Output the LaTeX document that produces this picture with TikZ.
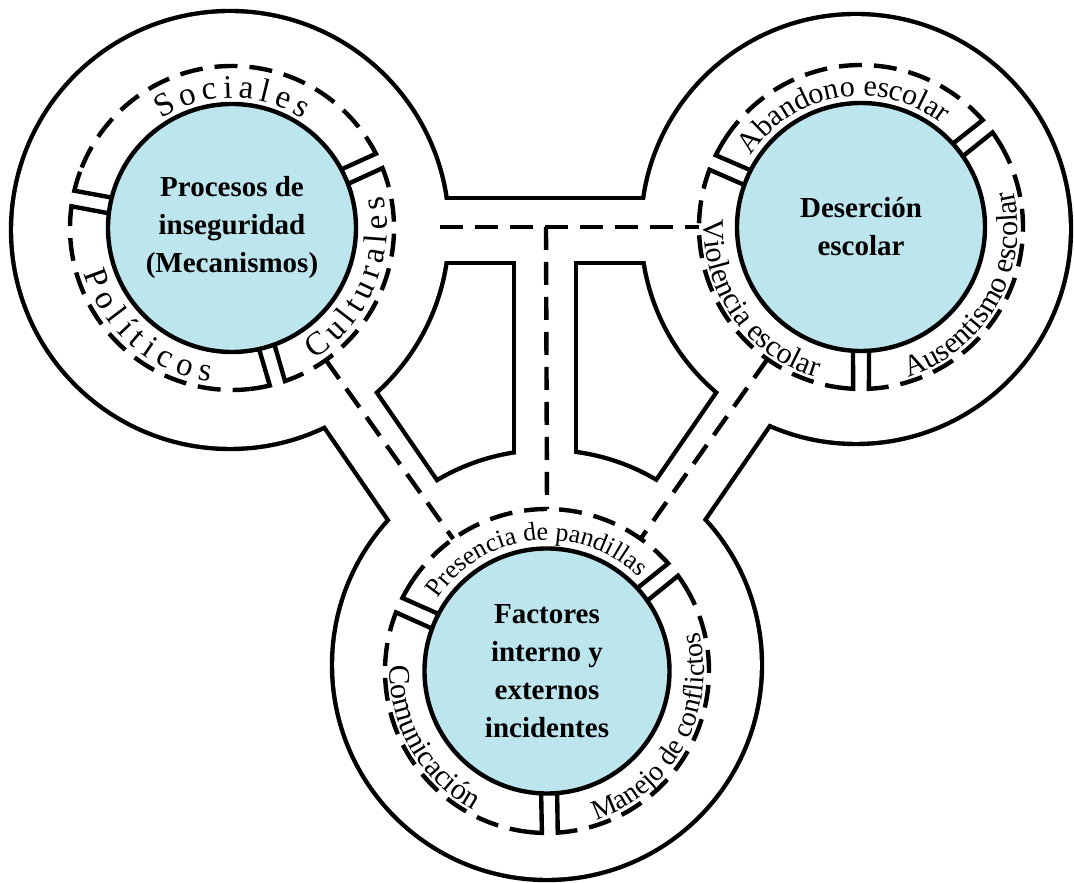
\documentclass[tikz,border=0pt]{standalone}
\usepackage{fontspec}
\setmainfont{Liberation Serif}
\usetikzlibrary{calc,decorations.text}

\definecolor{topicblue}{RGB}{188,229,238}

\newcommand{\spacedfont}{\fontsize{16.5pt}{20pt}\selectfont}
\newcommand{\ringfont}{\fontsize{15pt}{18pt}\selectfont}

\tikzset{
  topic/.style={circle, draw, fill=topicblue, line width=2.2pt, align=center,
    inner sep=0pt, font=\bfseries\fontsize{14.5pt}{19pt}\selectfont},
  ringline/.style={line width=2.2pt},
  ringdash/.style={line width=2.2pt, dash pattern=on 11.5pt off 6pt, dash phase=11.5pt},
  linkdash/.style={line width=2.2pt, dash pattern=on 11.5pt off 6pt},
}

\begin{document}
\begin{tikzpicture}[x=0.5pt, y=0.5pt]
\useasboundingbox (0,0) rectangle (1074,882);

% outline: black shapes, then the same shapes a little thinner in white
\fill (230,652) circle (221.2) (856,653) circle (217.2) (547,217) circle (217.2);
\draw[line width=34.7pt] (300,651.5) -- (790,651.5);
\draw[line width=33.2pt] (545,651.5) -- (545,282);
\draw[line width=33.7pt] (294,554) -- (467.7,301.6);
\draw[line width=33.7pt] (799,554) -- (625.3,301.6);
\fill[white] (230,652) circle (216.8) (856,653) circle (212.8) (547,217) circle (212.8);
\draw[white, line width=30.3pt] (300,651.5) -- (790,651.5);
\draw[white, line width=28.8pt] (545,651.5) -- (545,282);
\draw[white, line width=29.3pt] (294,554) -- (467.7,301.6);
\draw[white, line width=29.3pt] (799,554) -- (625.3,301.6);

% topics
\node (A) [topic, minimum size=124pt] at (232,654) {Procesos de\\inseguridad\\(Mecanismos)};
\node (B) [topic, minimum size=124pt] at (861,655) {Deserción\\escolar};
\node (C) [topic, minimum size=122.5pt] at (547,211) {Factores\\interno y\\externos\\incidentes};

% dashed rings, one piece per label
\foreach \c/\ri/\ga/\gb in {A/124/24.5/169.5, A/124/169.5/286.3, A/124/-73.7/24.5,
    B/124/38.5/156.5, B/124/156.5/270, B/124/-90/38.5,
    C/122.5/38.8/156, C/122.5/156/271, C/122.5/-89/38.8}{
  \draw[ringline] ($(\c)+(\ga:\ri)+(\ga+90:8)$) -- ($(\c)+(\ga+2.8:162)$)
    arc[start angle=\ga+2.8, end angle=\ga+9.8, radius=162];
  \draw[ringdash] ($(\c)+(\ga+9.8:162)$)
    arc[start angle=\ga+9.8, end angle=\gb-9.8, radius=162];
  \draw[ringline] ($(\c)+(\gb-9.8:162)$)
    arc[start angle=\gb-9.8, end angle=\gb-2.8, radius=162] -- ($(\c)+(\gb:\ri)+(\gb-90:8)$);
}

% dashed links between the rings
\coordinate (hL) at (440,655);
\coordinate (hJ) at (546,655);
\coordinate (Bw) at ($(B)+(180:162)$);
\coordinate (Cn) at ($(C)+(90:162)$);
\coordinate (Ase) at ($(A)+(-54.6:162)$);
\coordinate (Cnw) at ($(C)+(125.4:162)$);
\coordinate (Bsw) at ($(B)+(-125.3:162)$);
\coordinate (Cne) at ($(C)+(54.7:162)$);
\draw[linkdash] (hL) -- (Bw);
\draw[linkdash] (hJ) -- (Cn);
\draw[linkdash] (Ase) -- (Cnw);
\draw[linkdash] (Bsw) -- (Cne);

% labels along the rings
\path[decorate, decoration={text along path, text align=fit to path, text={|\spacedfont|Sociales}}]
  ($(A)+(123:130)$) arc[start angle=123, end angle=57, radius=130];
\path[decorate, decoration={text along path, text align=fit to path, text={|\spacedfont|Políticos}}]
  ($(A)+(197:155)$) arc[start angle=197, end angle=262, radius=155];
\path[decorate, decoration={text along path, text align=fit to path, text={|\spacedfont|Culturales}}]
  ($(A)+(-58:155)$) arc[start angle=-58, end angle=12, radius=155];

\path[decorate, decoration={text along path, text align=center, text={|\ringfont|Abandono escolar}}]
  ($(B)+(159.5:131)$) arc[start angle=159.5, end angle=39.5, radius=131];
\path[decorate, decoration={text along path, text align=center, text={|\ringfont|Violencia escolar}}]
  ($(B)+(155.5:157)$) arc[start angle=155.5, end angle=275.5, radius=157];
\path[decorate, decoration={text along path, text align=center, text={|\ringfont|Ausentismo escolar}}]
  ($(B)+(-89.6:157)$) arc[start angle=-89.6, end angle=30.4, radius=157];

\path[decorate, decoration={text along path, text align=center, text={|\fontsize{13pt}{16pt}\selectfont|Presencia de pandillas}}]
  ($(C)+(156:131)$) arc[start angle=156, end angle=36, radius=131];
\path[decorate, decoration={text along path, text align=center, text={|\ringfont|Comunicación}}]
  ($(C)+(150:157)$) arc[start angle=150, end angle=270, radius=157];
\path[decorate, decoration={text along path, text align=center, text={|\fontsize{14pt}{17pt}\selectfont|Manejo de conflictos}}]
  ($(C)+(-88.7:157)$) arc[start angle=-88.7, end angle=31.3, radius=157];
\end{tikzpicture}
\end{document}
